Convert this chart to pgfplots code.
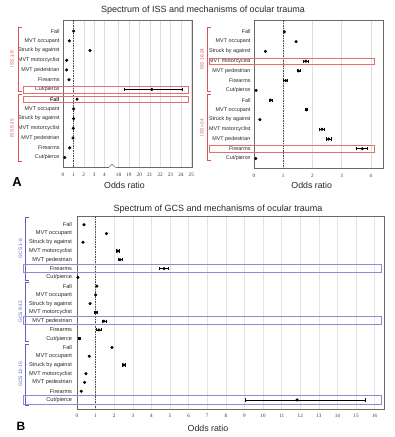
\documentclass[border=0pt]{standalone}
\usepackage{fontspec}
\setmainfont{Liberation Sans}
\newfontfamily\tickfont{Liberation Serif}
\usepackage{pgfplots}
\usepackage{pgfplotstable}
\pgfplotsset{compat=1.18}
\definecolor{issred}{RGB}{214,84,84}
\definecolor{issbox}{RGB}{226,110,110}
\definecolor{gcsblue}{RGB}{96,96,190}
\definecolor{gcsbox}{RGB}{140,140,215}
\definecolor{framegray}{RGB}{105,105,105}
\definecolor{gridA}{RGB}{222,222,222}
\definecolor{gridB}{RGB}{226,226,238}
\newcommand\ci[3]{\addplot[ci] coordinates {(#1,#3) (#2,#3)};}

\pgfplotsset{
  forest/.style={
    scale only axis,
    y dir=reverse,
    axis line style={framegray, line width=0.6pt},
    major tick length=0pt,
    xmajorgrids,
    grid style={gridA, line width=0.4pt},
    xticklabel style={font=\tickfont\fontsize{5.2}{6}\selectfont, text=black!80, yshift=-1.6pt},
    yticklabel style={font=\fontsize{5.4}{6}\selectfont, text=black!85},
    clip=false,
  },
  pt/.style={only marks, mark=*, mark size=1.35pt, black},
  ci/.style={black, line width=0.65pt, mark=|, mark size=1.6pt, mark options={solid, line width=0.65pt}},
}

\pgfplotstableread{
y x
1 1.03
2 0.61
3 2.60
4 0.35
5 0.35
6 0.58
7 21.2
8 1.35
9 1.03
10 1.03
11 0.99
12 0.96
13 0.64
14 0.16
}\issAleft

\pgfplotstableread{
y x
1 1.04
2 1.44
3 0.39
4 1.78
5 1.52
6 1.08
7 0.07
8 0.57
9 1.80
10 0.20
11 2.33
12 2.56
13 3.71
14 0.06
}\issAright

\pgfplotstableread{
y x
1 0.38
2 1.58
3 0.32
4 2.19
5 2.31
6 4.68
7 0.05
8 1.07
9 1.00
10 0.70
11 1.02
12 1.45
13 1.18
14 0.14
15 1.88
16 0.66
17 2.51
18 0.48
19 0.41
20 0.23
21 11.83
}\gcsB

\begin{document}
\begin{tikzpicture}
\path[use as bounding box] (0pt,0pt) rectangle (395pt,-437pt);

% ---------- Panel A left ----------
\begin{axis}[forest, at={(63pt,-20pt)}, anchor=north west,
  width=129pt, height=147.5pt,
  xmin=0, xmax=25.07, ymin=-0.14, ymax=15.03,
  x coord trafo/.code={\pgfmathparse{(#1>10)?(#1-12.65):(#1)}},
  x coord inv trafo/.code={\pgfmathparse{(#1>5)?(#1+12.65):(#1)}},
  xtick={0,1,2,3,4,18,19,20,21,22,23,24,25},
  xticklabels={0,1,2,3,4,18,19,20,21,22,23,24,25},
  ytick={1,...,14},
  yticklabels={Fall,MVT occupant,Struck by against,MVT motorcyclist,MVT pedestrian,Firearms,Cut/pierce,\textbf{Fall},MVT occupant,Struck by against,MVT motorcyclist,MVT pedestrian,Firearms,Cut/pierce},
]
\draw[black!70, line width=0.5pt, dash pattern=on 1.5pt off 1pt] (axis cs:1,-0.14) -- (axis cs:1,15.03);
\ci{18.6}{24.1}{7}
\addplot[pt] table[x=x,y=y] {\issAleft};
\end{axis}

% ---------- Panel A right ----------
\begin{axis}[forest, at={(254pt,-20pt)}, anchor=north west,
  width=129pt, height=148.5pt,
  xmin=0, xmax=4.42, ymin=-0.22, ymax=15.02,
  xtick={0,1,2,3,4}, xticklabels={0,1,2,3,4},
  ytick={1,...,14},
  yticklabels={Fall,MVT occupant,Struck by against,MVT motorcyclist,MVT pedestrian,Firearms,Cut/pierce,Fall,MVT occupant,Struck by against,MVT motorcyclist,MVT pedestrian,Firearms,Cut/pierce},
]
\draw[black!70, line width=0.5pt, dash pattern=on 1.5pt off 1pt] (axis cs:1,-0.22) -- (axis cs:1,15.02);
\ci{1.70}{1.87}{4}
\ci{1.47}{1.58}{5}
\ci{1.02}{1.15}{6}
\ci{0.52}{0.62}{8}
\ci{1.76}{1.84}{9}
\ci{2.25}{2.42}{11}
\ci{2.47}{2.65}{12}
\ci{3.52}{3.89}{13}
\addplot[pt] table[x=x,y=y] {\issAright};
\end{axis}

% ---------- Panel B ----------
\begin{axis}[forest, at={(77pt,-216pt)}, anchor=north west,
  width=307pt, height=193pt,
  xmin=0, xmax=16.5, ymin=0, ymax=22.03,
  grid style={gridB, line width=0.4pt},
  yticklabel style={font=\fontsize{5.6}{6}\selectfont, text=black!85, xshift=-1.5pt},
  xtick={0,1,...,16}, xticklabels={0,1,2,3,4,5,6,7,8,9,10,11,12,13,14,15,16},
  ytick={1,...,21},
  yticklabels={Fall,MVT occupant,Struck by against,MVT motorcyclist,MVT pedestrian,Firearms,Cut/pierce,Fall,MVT occupant,Struck by against,MVT motorcyclist,MVT pedestrian,Firearms,Cut/pierce,Fall,MVT occupant,Struck by against,MVT motorcyclist,MVT pedestrian,Firearms,Cut/pierce},
]
\draw[black!70, line width=0.5pt, dash pattern=on 1.5pt off 1pt] (axis cs:1,0) -- (axis cs:1,22.03);
\ci{2.10}{2.30}{4}
\ci{2.20}{2.45}{5}
\ci{4.43}{4.93}{6}
\ci{0.95}{1.10}{11}
\ci{1.35}{1.55}{12}
\ci{1.05}{1.32}{13}
\ci{0.08}{0.20}{14}
\ci{2.45}{2.58}{17}
\ci{9.03}{15.5}{21}
\addplot[pt] table[x=x,y=y] {\gcsB};
\end{axis}

% ---------- annotations ----------
\begin{scope}[x=1pt,y=-1pt]
% axis break mark
\fill[white] (108.5,166.6) rectangle (115.5,168.4);
\draw[framegray, line width=0.5pt] (108.5,167.5) -- (112,164.3) -- (115.5,167.5);

% titles
\node[font=\fontsize{9}{10}\selectfont, text=black!85] at (203,10) {Spectrum of ISS and mechanisms of ocular trauma};
\node[font=\fontsize{9}{10}\selectfont, text=black!85] at (218,209) {Spectrum of GCS and mechanisms of ocular trauma};
\node[font=\fontsize{8.8}{10}\selectfont, text=black!85] at (124.5,185) {Odds ratio};
\node[font=\fontsize{8.8}{10}\selectfont, text=black!85] at (311.7,185) {Odds ratio};
\node[font=\fontsize{8.8}{10}\selectfont, text=black!85] at (208,428) {Odds ratio};
\node[font=\bfseries\fontsize{13}{14}\selectfont] at (17,182) {A};
\node[font=\bfseries\fontsize{12}{14}\selectfont] at (21,426) {B};

% ISS brackets
\draw[issred, line width=0.6pt] (22,27) -- (18,27) -- (18,91) -- (22,91);
\draw[issred, line width=0.6pt] (22,94.3) -- (18,94.3) -- (18,161.7) -- (22,161.7);
\node[rotate=90, text=issred, font=\fontsize{4.8}{5}\selectfont] at (12,59) {ISS 1-8};
\node[rotate=90, text=issred, font=\fontsize{4.8}{5}\selectfont] at (12,128) {ISS 9-15};
\draw[issred, line width=0.6pt] (211,27) -- (207,27) -- (207,91) -- (211,91);
\draw[issred, line width=0.6pt] (211,94.3) -- (207,94.3) -- (207,160.5) -- (211,160.5);
\node[rotate=90, text=issred, font=\fontsize{4.8}{5}\selectfont] at (202,59) {ISS 16-24};
\node[rotate=90, text=issred, font=\fontsize{4.8}{5}\selectfont] at (202,127.5) {ISS >24};

% GCS brackets
\draw[gcsblue, line width=0.7pt] (29,217) -- (25,217) -- (25,280) -- (29,280);
\draw[gcsblue, line width=0.7pt] (29,282) -- (25,282) -- (25,341) -- (29,341);
\draw[gcsblue, line width=0.7pt] (29,344) -- (25,344) -- (25,405) -- (29,405);
\node[rotate=90, text=gcsblue, font=\fontsize{4.9}{5}\selectfont] at (20.5,248.5) {GCS 1-8};
\node[rotate=90, text=gcsblue, font=\fontsize{4.9}{5}\selectfont] at (20.5,311.5) {GCS 9-12};
\node[rotate=90, text=gcsblue, font=\fontsize{4.9}{5}\selectfont] at (20.5,374.5) {GCS 13-15};

% highlight boxes
\draw[issbox, line width=0.7pt] (23,86.5) rectangle (188,93);
\draw[issbox, line width=0.7pt] (23,96) rectangle (188,102.3);
\draw[issbox, line width=0.7pt] (209,57.9) rectangle (374,64.4);
\draw[issbox, line width=0.7pt] (209,145.8) rectangle (374,152.4);
\draw[gcsbox, line width=0.7pt] (23,264.3) rectangle (381,272.8);
\draw[gcsbox, line width=0.7pt] (23,316) rectangle (381,324.4);
\draw[gcsbox, line width=0.7pt] (23,395.8) rectangle (381,404.2);
\end{scope}
\end{tikzpicture}
\end{document}
